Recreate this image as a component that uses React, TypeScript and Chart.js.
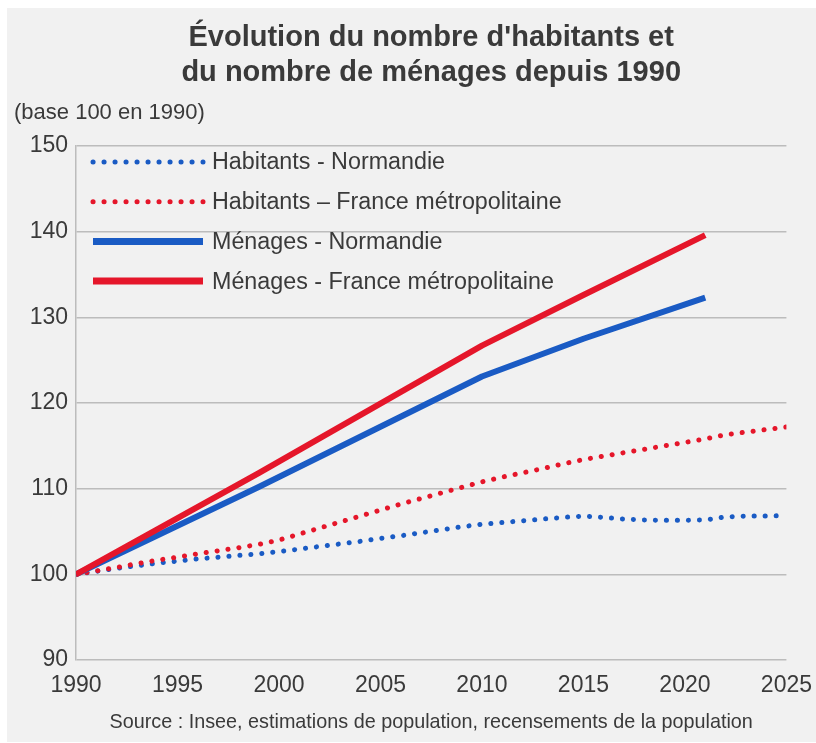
import React, { useEffect, useRef } from 'react';
import { Chart, registerables } from 'chart.js';

Chart.register(...registerables);

// ---------- Data ----------
const years = [
  1990, 1991, 1992, 1993, 1994, 1995, 1996, 1997, 1998, 1999,
  2000, 2001, 2002, 2003, 2004, 2005, 2006, 2007, 2008, 2009,
  2010, 2011, 2012, 2013, 2014, 2015, 2016, 2017, 2018, 2019,
  2020, 2021, 2022, 2023, 2024, 2025,
];

const habitantsNormandie = [
  100.0, 100.35, 100.7, 101.0, 101.3, 101.55, 101.8, 102.0, 102.2, 102.4,
  102.65, 102.95, 103.25, 103.55, 103.85, 104.2, 104.5, 104.85, 105.2, 105.55,
  105.85, 106.05, 106.25, 106.45, 106.65, 106.8, 106.65, 106.45, 106.35, 106.3,
  106.3, 106.35, 106.7, 106.8, 106.8, 106.85,
];

const habitantsFrance = [
  100.0, 100.4, 100.8, 101.25, 101.65, 102.0, 102.4, 102.75, 103.1, 103.5,
  104.0, 104.7, 105.4, 106.1, 106.8, 107.5, 108.2, 108.85, 109.5, 110.15,
  110.8, 111.35, 111.85, 112.35, 112.9, 113.4, 113.8, 114.2, 114.6, 115.0,
  115.4, 115.8, 116.3, 116.6, 116.9, 117.2,
];

const menagesYears = [1990, 1999, 2010, 2015, 2021];
const menagesNormandie = [100.0, 110.2, 123.1, 127.5, 132.3];
const menagesFrance = [100.0, 111.8, 126.7, 132.6, 139.6];

const xTickValues = [1990, 1995, 2000, 2005, 2010, 2015, 2020, 2025];
const yTickValues = [90, 100, 110, 120, 130, 140, 150];

const seriesLabels = [
  'Habitants - Normandie',
  'Habitants – France métropolitaine',
  'Ménages - Normandie',
  'Ménages - France métropolitaine',
];

const titleLines = ["Évolution du nombre d'habitants et", 'du nombre de ménages depuis 1990'];
const subtitleText = '(base 100 en 1990)';
const sourceText = 'Source : Insee, estimations de population, recensements de la population';

// ---------- Styles ----------
const BLUE = '#1a5bc4';
const RED = '#e5162a';
const TEXT = '#3a3a3a';
const GRID = '#bcbcbc';
const FONT = "'Liberation Sans', Arial, sans-serif";

const toPoints = (xs: number[], ys: number[]) => xs.map((x, i) => ({ x, y: ys[i] }));

// Legend drawn inside the plot area (top-left), from the datasets' own styles
const insideLegendPlugin = {
  id: 'insideLegend',
  afterDraw(chart: any, _args: any, opts: any) {
    const { ctx, chartArea } = chart;
    ctx.save();
    ctx.textBaseline = 'middle';
    ctx.textAlign = 'left';
    chart.data.datasets.forEach((ds: any, i: number) => {
      const y = chartArea.top + opts.top + i * opts.rowGap;
      const x0 = chartArea.left + opts.lineStart;
      ctx.beginPath();
      ctx.setLineDash(ds.borderDash || []);
      ctx.lineCap = ds.borderCapStyle || 'butt';
      ctx.lineWidth = ds.borderDash ? ds.borderWidth : opts.solidWidth;
      ctx.strokeStyle = ds.borderColor;
      ctx.moveTo(x0, y);
      ctx.lineTo(x0 + opts.lineLength, y);
      ctx.stroke();
      ctx.setLineDash([]);
      ctx.font = `${opts.fontSize}px ${FONT}`;
      ctx.fillStyle = TEXT;
      ctx.fillText(ds.label, chartArea.left + opts.textStart, y + 1);
    });
    ctx.restore();
  },
};

export default function App() {
  const ref = useRef<HTMLCanvasElement>(null);

  useEffect(() => {
    const canvas = ref.current;
    if (!canvas) return;
    const dotted = { borderWidth: 5, borderDash: [0.1, 10.9], borderCapStyle: 'round', borderJoinStyle: 'round' };
    const solid = { borderWidth: 6, borderCapStyle: 'butt', borderJoinStyle: 'round' };
    const chart = new Chart(canvas, {
      type: 'line',
      data: {
        datasets: [
          { label: seriesLabels[0], data: toPoints(years, habitantsNormandie), borderColor: BLUE, ...dotted, pointRadius: 0, tension: 0, order: 3 } as any,
          { label: seriesLabels[1], data: toPoints(years, habitantsFrance), borderColor: RED, ...dotted, pointRadius: 0, tension: 0, order: 2 } as any,
          { label: seriesLabels[2], data: toPoints(menagesYears, menagesNormandie), borderColor: BLUE, ...solid, pointRadius: 0, tension: 0, order: 1 } as any,
          { label: seriesLabels[3], data: toPoints(menagesYears, menagesFrance), borderColor: RED, ...solid, pointRadius: 0, tension: 0, order: 0 } as any,
        ],
      },
      options: {
        responsive: false,
        animation: false,
        events: [],
        layout: { padding: { left: 7, right: 29, top: 0, bottom: 0 } },
        plugins: {
          legend: { display: false },
          tooltip: { enabled: false },
          title: {
            display: true,
            fullSize: false,
            text: titleLines,
            color: TEXT,
            font: { family: FONT, size: 29, weight: 'bold', lineHeight: 35 / 29 },
            padding: { top: 12.5, bottom: 0 },
          },
          subtitle: {
            display: true,
            align: 'start',
            text: subtitleText,
            color: TEXT,
            font: { family: FONT, size: 22, lineHeight: 1.2 },
            padding: { top: 9.3, bottom: 19.8 },
          },
          insideLegend: {
            top: 16,
            rowGap: 39.7,
            lineStart: 17,
            lineLength: 110,
            textStart: 136,
            solidWidth: 7,
            fontSize: 23.3,
          },
        } as any,
        scales: {
          x: {
            type: 'linear',
            min: 1990,
            max: 2025,
            afterBuildTicks: (s: any) => {
              s.ticks = xTickValues.map((v) => ({ value: v }));
            },
            afterFit: (s: any) => {
              s.height = 82;
            },
            grid: { display: false },
            border: { display: false },
            ticks: {
              color: TEXT,
              font: { family: FONT, size: 23, lineHeight: 1.2 },
              padding: 4,
              maxRotation: 0,
              autoSkip: false,
              callback: (v: any) => String(v),
            },
            title: {
              display: true,
              text: sourceText,
              color: TEXT,
              font: { family: FONT, size: 19.8, lineHeight: 1.2 },
              padding: { top: 0, bottom: 8 },
            },
          },
          y: {
            type: 'linear',
            min: 90,
            max: 150,
            afterBuildTicks: (s: any) => {
              s.ticks = yTickValues.map((v) => ({ value: v }));
            },
            afterFit: (s: any) => {
              s.width = 62;
            },
            grid: { color: GRID, lineWidth: 1.5, drawTicks: false },
            border: { color: GRID, width: 1.5 },
            ticks: {
              color: TEXT,
              font: { family: FONT, size: 23, lineHeight: 1.2 },
              padding: 8,
              callback: (v: any) => String(v),
            },
          },
        } as any,
      },
      plugins: [insideLegendPlugin as any],
    });
    return () => chart.destroy();
  }, []);

  return (
    <div
      style={{
        position: 'fixed',
        left: 7,
        top: 8,
        width: 809,
        height: 734,
        background: '#f1f1f1',
      }}
    >
      <canvas ref={ref} width={809} height={734} style={{ display: 'block', width: 809, height: 734 }} />
    </div>
  );
}
